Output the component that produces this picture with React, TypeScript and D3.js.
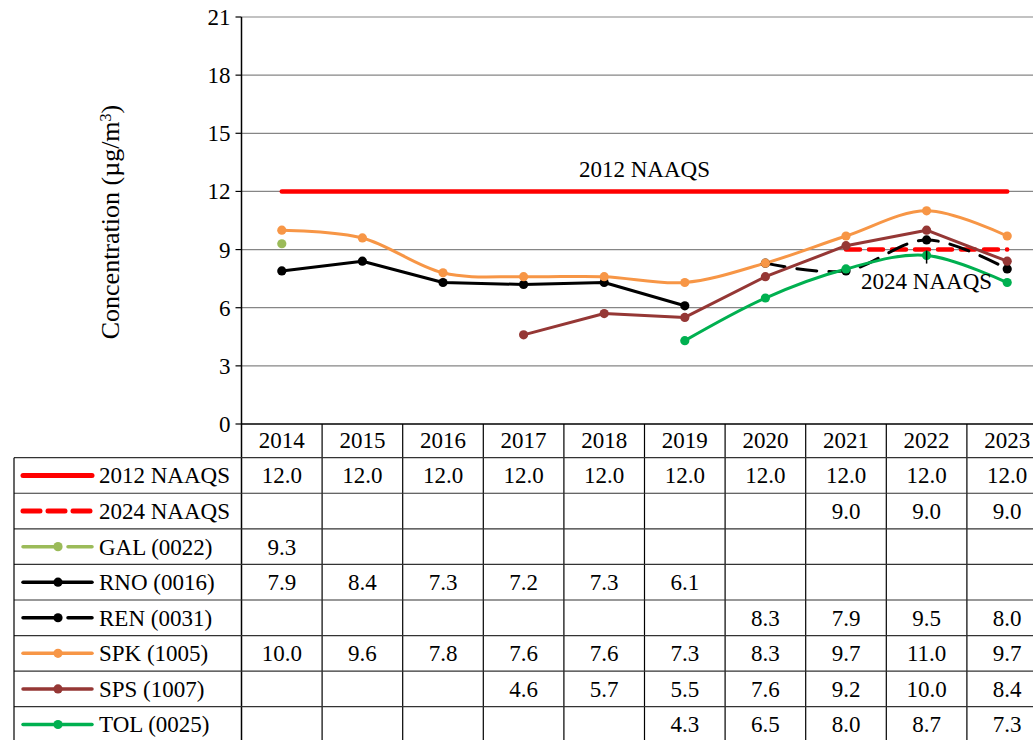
import React from "react";
import * as d3 from "d3";

const years = ["2014", "2015", "2016", "2017", "2018", "2019", "2020", "2021", "2022", "2023"];
type V = number | null;
const naaqs2012: V[] = [12.0, 12.0, 12.0, 12.0, 12.0, 12.0, 12.0, 12.0, 12.0, 12.0];
const naaqs2024: V[] = [null, null, null, null, null, null, null, 9.0, 9.0, 9.0];
const gal: V[] = [9.3, null, null, null, null, null, null, null, null, null];
const rno: V[] = [7.9, 8.4, 7.3, 7.2, 7.3, 6.1, null, null, null, null];
const ren: V[] = [null, null, null, null, null, null, 8.3, 7.9, 9.5, 8.0];
const spk: V[] = [10.0, 9.6, 7.8, 7.6, 7.6, 7.3, 8.3, 9.7, 11.0, 9.7];
const sps: V[] = [null, null, null, 4.6, 5.7, 5.5, 7.6, 9.2, 10.0, 8.4];
const tol: V[] = [null, null, null, null, null, 4.3, 6.5, 8.0, 8.7, 7.3];
const yTicks = [0, 3, 6, 9, 12, 15, 18, 21];

interface Series {
  name: string;
  values: V[];
  color: string;
  dash?: string;
  marker: boolean;
  smooth: boolean;
  width: number;
  legendDash?: boolean;
}

const series: Series[] = [
  { name: "2012 NAAQS", values: naaqs2012, color: "#FF0000", marker: false, smooth: false, width: 4.5 },
  { name: "2024 NAAQS", values: naaqs2024, color: "#FF0000", dash: "14,9", marker: false, smooth: false, width: 4.5 },
  { name: "GAL (0022)", values: gal, color: "#9BBB59", dash: "16,8", marker: true, smooth: false, width: 3, legendDash: true },
  { name: "RNO (0016)", values: rno, color: "#000000", marker: true, smooth: false, width: 3 },
  { name: "REN (0031)", values: ren, color: "#000000", dash: "20,12", marker: true, smooth: true, width: 3, legendDash: true },
  { name: "SPK (1005)", values: spk, color: "#F79646", marker: true, smooth: true, width: 3 },
  { name: "SPS (1007)", values: sps, color: "#953735", marker: true, smooth: false, width: 3 },
  { name: "TOL (0025)", values: tol, color: "#00B050", marker: true, smooth: true, width: 3 },
];

const W = 1033;
const H = 740;
const plotLeft = 241.5;
const colW = 80.6;
const plotTop = 17;
const plotBottom = 424;
const headerBottom = 457.7;
const rowH = 35.57;
const legendLeft = 14;
const font = "Liberation Serif";

export default function App() {
  const x = d3
    .scaleBand<string>()
    .domain(years)
    .range([plotLeft, plotLeft + colW * years.length]);
  const cx = (i: number) => (x(years[i]) as number) + x.bandwidth() / 2;
  const y = d3.scaleLinear().domain([0, 21]).range([plotBottom, plotTop]);

  const smoothGen = d3
    .line<V>()
    .defined((d) => d !== null)
    .x((_, i) => cx(i))
    .y((d) => y(d as number))
    .curve(d3.curveCardinal.tension(0));

  const straightGen = d3
    .line<V>()
    .defined((d) => d !== null)
    .x((_, i) => cx(i))
    .y((d) => y(d as number));

  const tableBottom = headerBottom + rowH * series.length;

  return (
    <svg
      width={W}
      height={H}
      style={{ position: "absolute", left: 0, top: 0, background: "#fff", fontFamily: font }}
    >
      <defs>
        <clipPath id="clip">
          <rect x={0} y={0} width={W} height={H} />
        </clipPath>
      </defs>
      <g clipPath="url(#clip)">
        {yTicks.map((t) =>
          t === 0 ? null : (
            <line key={"g" + t} x1={plotLeft} x2={W} y1={y(t)} y2={y(t)} stroke="#868686" strokeWidth={1.2} />
          )
        )}
        {yTicks.map((t) => (
          <g key={"t" + t}>
            <line x1={plotLeft - 6} x2={plotLeft} y1={y(t)} y2={y(t)} stroke="#000" strokeWidth={1.2} />
            <text x={plotLeft - 11} y={y(t) + 8} textAnchor="end" fontSize={23} fill="#000">
              {t}
            </text>
          </g>
        ))}
        <line x1={plotLeft} x2={plotLeft} y1={plotTop} y2={tableBottom} stroke="#000" strokeWidth={1.5} />
        <line x1={plotLeft} x2={W} y1={plotBottom} y2={plotBottom} stroke="#000" strokeWidth={1.5} />

        <text
          transform={`translate(119, 222) rotate(-90)`}
          textAnchor="middle"
          fontSize={26}
          fill="#000"
        >
          Concentration (µg/m
          <tspan baselineShift="super" fontSize={16}>
            3
          </tspan>
          )
        </text>

        {series.map((s, si) => (
          <path
            key={"l" + si}
            d={(s.smooth ? smoothGen : straightGen)(s.values) || ""}
            fill="none"
            stroke={s.color}
            strokeWidth={s.width}
            strokeDasharray={s.dash}
            strokeLinecap="round"
            strokeLinejoin="round"
          />
        ))}
        {series.map((s, si) =>
          s.marker
            ? s.values.map((v, i) =>
                v === null ? null : (
                  <circle key={`m${si}-${i}`} cx={cx(i)} cy={y(v)} r={4.6} fill={s.color} />
                )
              )
            : null
        )}

        <text x={(cx(4) + cx(5)) / 2} y={y(12) - 14} textAnchor="middle" fontSize={23} fill="#000">
          2012 NAAQS
        </text>
        <line x1={cx(8)} x2={cx(8)} y1={y(9) + 1} y2={y(9) + 14} stroke="#000" strokeWidth={1.5} />
        <text x={cx(8)} y={y(9) + 39} textAnchor="middle" fontSize={23} fill="#000">
          2024 NAAQS
        </text>

        {years.map((yr, i) => (
          <g key={"c" + i}>
            <line
              x1={(x(yr) as number) + colW}
              x2={(x(yr) as number) + colW}
              y1={plotBottom}
              y2={tableBottom}
              stroke="#000"
              strokeWidth={1.2}
            />
            <text x={cx(i)} y={plotBottom + 24} textAnchor="middle" fontSize={23} fill="#000">
              {yr}
            </text>
          </g>
        ))}
        {series.map((s, si) => (
          <line
            key={"r" + si}
            x1={legendLeft}
            x2={W}
            y1={headerBottom + rowH * si}
            y2={headerBottom + rowH * si}
            stroke="#333"
            strokeWidth={1.2}
          />
        ))}
        <line x1={legendLeft} x2={legendLeft} y1={headerBottom} y2={tableBottom} stroke="#000" strokeWidth={1.2} />
        {series.map((s, si) => {
          const ry = headerBottom + rowH * si + rowH / 2;
          return (
            <g key={"row" + si}>
              {s.legendDash ? (
                <>
                  <line x1={23} x2={60} y1={ry} y2={ry} stroke={s.color} strokeWidth={s.width + 0.5} strokeLinecap="round" />
                  <line x1={68} x2={92} y1={ry} y2={ry} stroke={s.color} strokeWidth={s.width + 0.5} strokeLinecap="round" />
                </>
              ) : (
                <line
                  x1={23}
                  x2={92}
                  y1={ry}
                  y2={ry}
                  stroke={s.color}
                  strokeWidth={s.width + 0.5}
                  strokeDasharray={s.dash ? "17,8" : undefined}
                  strokeLinecap="round"
                />
              )}
              {s.marker ? <circle cx={58} cy={ry} r={4.6} fill={s.color} /> : null}
              <text x={99} y={ry + 8} fontSize={23} fill="#000">
                {s.name}
              </text>
              {s.values.map((v, i) =>
                v === null ? null : (
                  <text key={`v${si}-${i}`} x={cx(i)} y={ry + 8} textAnchor="middle" fontSize={23} fill="#000">
                    {v.toFixed(1)}
                  </text>
                )
              )}
            </g>
          );
        })}
      </g>
    </svg>
  );
}
